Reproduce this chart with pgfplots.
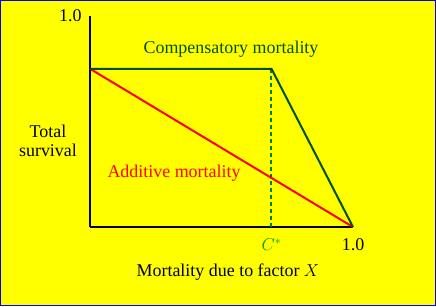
\documentclass[border=0pt]{standalone}
\usepackage{pgfplots}
\pgfplotsset{compat=1.18}
\usepackage{fontspec}
\setmainfont{Liberation Serif}
\definecolor{bgyellow}{RGB}{255,255,0}
\definecolor{dkgreen}{RGB}{0,80,0}
\definecolor{midgreen}{RGB}{0,128,0}
\definecolor{cstar}{RGB}{0,150,0}
\begin{document}
\begin{tikzpicture}[x=1bp,y=1bp]
\fill[bgyellow] (0,0) rectangle (436,306);
\draw[blue,line width=1bp] (0.5,0.5) rectangle (435.5,305.5);
\begin{axis}[
  at={(90bp,79bp)}, anchor=origin,
  scale only axis, width=263bp, height=211bp,
  xmin=0, xmax=1, ymin=0, ymax=1,
  axis x line=bottom, axis y line=left,
  axis line style={-, line width=2bp, black},
  xtick={0.69,1}, xticklabels={\textcolor{cstar}{$C^{*}$}, 1.0},
  ytick={1}, yticklabels={1.0},
  major tick length=0pt,
  tick label style={font=\fontsize{18}{21}\selectfont},
  /pgf/number format/assume math mode=true,
  xticklabel style={yshift=-8bp},
  yticklabel style={xshift=-5bp},
  clip=false,
]
\addplot[midgreen, line width=2bp, dash pattern=on 4bp off 3bp] coordinates {(0.69,0) (0.69,0.75)};
\addplot[red, line width=2bp] coordinates {(0,0.75) (1,0)};
\addplot[dkgreen, line width=2bp] coordinates {(0,0.75) (0.69,0.75) (1,0)};
\end{axis}
\node[dkgreen, font=\fontsize{18}{21}\selectfont] at (231,257) {Compensatory mortality};
\node[red, font=\fontsize{18}{21}\selectfont] at (174,133) {Additive mortality};
\node[black, font=\fontsize{18}{19}\selectfont, align=center] at (48,165) {Total\\survival};
\node[black, font=\fontsize{18}{21}\selectfont] at (228,34) {Mortality due to factor $X$};
\end{tikzpicture}
\end{document}
